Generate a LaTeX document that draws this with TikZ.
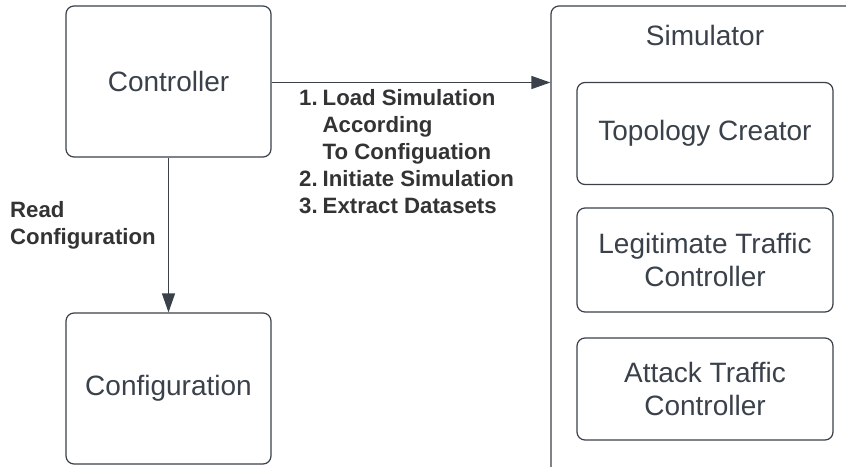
\documentclass[tikz,border=0pt]{standalone}
\usepackage{fontspec}
\setmainfont{Liberation Sans}
\usetikzlibrary{arrows.meta}
\definecolor{ink}{HTML}{3A414A}
\definecolor{labelink}{HTML}{333333}
\tikzset{
  box/.style={draw=ink, line width=1.2pt, rounded corners=8pt, fill=white,
    text=ink, font=\fontsize{28}{33}\selectfont, align=center, inner sep=0pt},
  flow/.style={draw=ink, line width=1.2pt, -{Triangle[length=19pt,width=13pt]}},
  steplabel/.style={text=labelink, font=\bfseries\fontsize{22.2}{27}\selectfont,
    align=left, inner sep=0pt, anchor=north west}
}
\begin{document}
\begin{tikzpicture}[x=1pt,y=1pt]
\useasboundingbox (0,0) rectangle (846,-466);
\begin{scope}
  \clip (0,0) rectangle (846,-466);
  % simulator container, running past the right and bottom edges
  \node[box, minimum width=320pt, minimum height=490pt] (sim) at (711,-251) {};
\end{scope}
\node[text=ink, font=\fontsize{28}{33}\selectfont, inner sep=0pt] (simlabel) at (705,-35) {Simulator};

\node[box, minimum width=205pt, minimum height=151pt] (ctrl) at (168.5,-81.5) {Controller};
\node[box, minimum width=205pt, minimum height=151pt] (conf) at (168.5,-388.5) {Configuration};

\node[box, minimum width=256pt, minimum height=102pt] (topo) at (705,-133.5) {Topology Creator};
\node[box, minimum width=256pt, minimum height=104pt] (legit) at (705,-260) {Legitimate Traffic\\Controller};
\node[box, minimum width=256pt, minimum height=102pt] (attack) at (705,-389) {Attack Traffic\\Controller};

\coordinate (ctrlout) at (ctrl.east |- 0,-82.5);
\draw[flow] (ctrlout) -- (sim.west |- ctrlout);
\draw[flow] (ctrl.south) -- (conf.north);

\node[steplabel] (steps) at (299,-86) {%
  \begin{tabular}{@{}l@{\hspace{5pt}}l@{}}
  1. & Load Simulation\\
     & According\\
     & To Configuation\\
  2. & Initiate Simulation\\
  3. & Extract Datasets
  \end{tabular}};
\node[steplabel] (readlabel) at (10,-201) {Read\\Configuration};
\end{tikzpicture}
\end{document}
